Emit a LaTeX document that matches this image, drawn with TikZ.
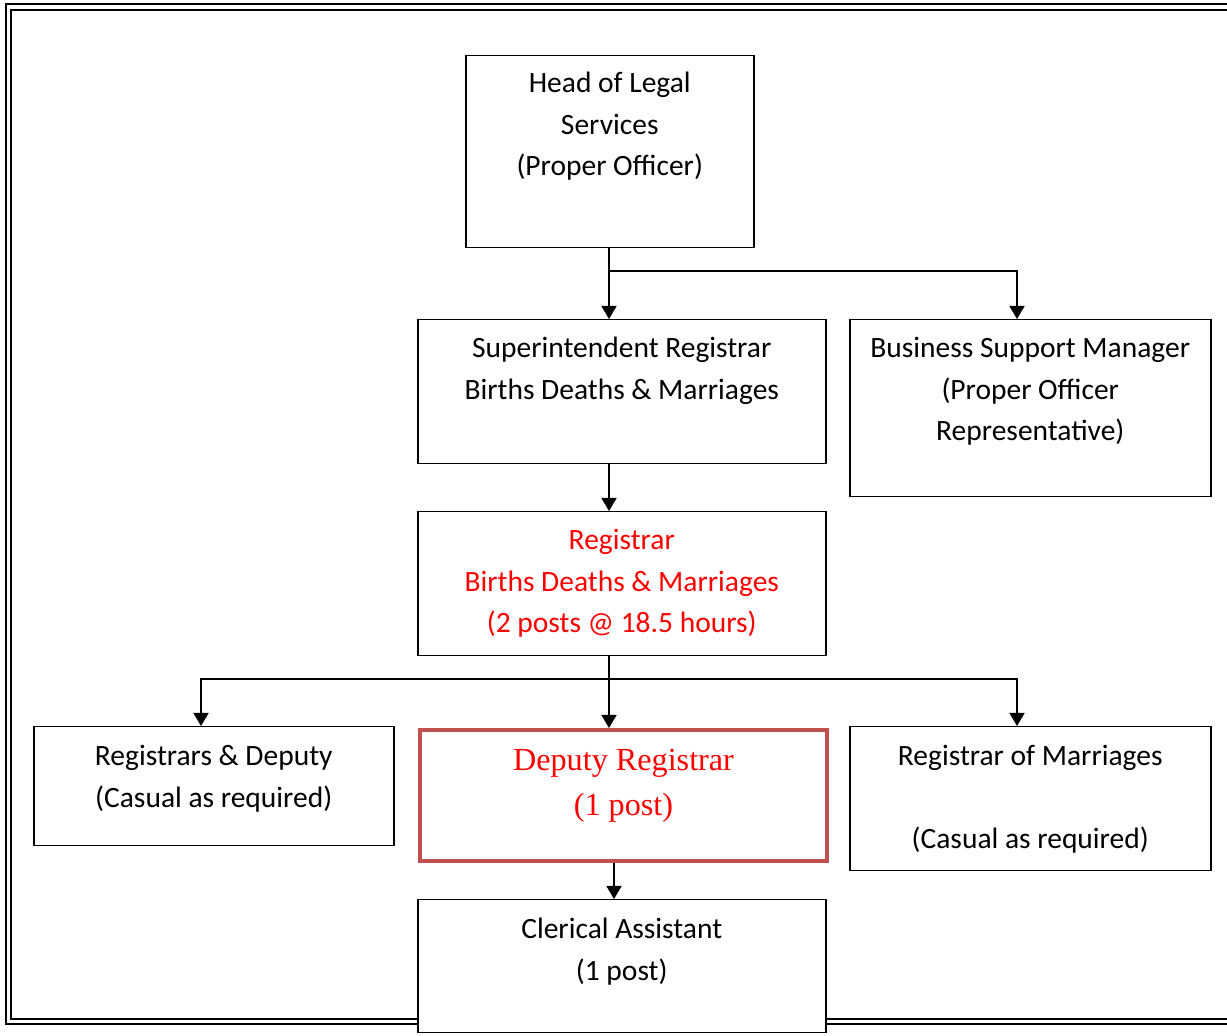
\documentclass[tikz,border=0pt]{standalone}
\usepackage{fontspec}
\setmainfont{Carlito}
\newfontfamily\timesfont{Liberation Serif}
\usetikzlibrary{arrows.meta}
\definecolor{deepred}{HTML}{C0504D}
\tikzset{
  post/.style={draw, line width=0.75pt, fill=white, align=center, inner sep=0pt, anchor=north west,
    font=\fontsize{14.75pt}{20.8pt}\selectfont},
  link/.style={line width=0.75pt, -{Triangle[width=7.5pt,length=6.5pt]}},
  edge/.style={line width=0.75pt}
}
\begin{document}
\begin{tikzpicture}[x=0.5pt, y=-0.5pt]
\useasboundingbox (0,0) rectangle (1227,1036);
\draw[line width=1pt] (6,4.5) rectangle (1240,1023.8);
\draw[line width=1pt] (10.5,10) rectangle (1235,1018.7);
\node[post, minimum width=144pt, text height=60.1pt, text depth=35.9pt] (head) at (465,55) {Head of Legal\\Services\\(Proper Officer)};
\node[post, minimum width=204pt, text height=39.8pt, text depth=32.2pt] (super) at (417,319) {Superintendent Registrar\\Births Deaths \& Marriages};
\node[post, minimum width=180.5pt, text height=60.6pt, text depth=27.9pt] (bsm) at (849,319) {Business Support Manager\\(Proper Officer\\Representative)};
\node[post, minimum width=204pt, text height=60.6pt, text depth=11.4pt, text=red] (reg) at (417,511) {Registrar\\Births Deaths \& Marriages\\(2 posts @ 18.5 hours)};
\node[post, minimum width=180pt, text height=40.3pt, text depth=19.2pt] (casual) at (33,726) {Registrars \& Deputy\\(Casual as required)};
\node[post, draw=deepred, line width=2pt, minimum width=203.5pt, text height=43pt, text depth=22.5pt, text=red,
  font=\timesfont\fontsize{16.1pt}{22.5pt}\selectfont] (deputy) at (418,728) {Deputy Registrar\\(1 post)};
\node[post, minimum width=180.5pt, text height=61.1pt, text depth=10.9pt] (marr) at (849,726) {Registrar of Marriages\\ \\(Casual as required)};
\node[post, minimum width=204pt, text height=40.3pt, text depth=26.2pt] (clerk) at (417,899) {Clerical Assistant\\(1 post)};
\coordinate (j1) at (609,271);
\coordinate (b1) at (1017,319);
\coordinate (j2) at (609,679);
\coordinate (l2) at (201,726);
\coordinate (r2) at (1017,726);
\coordinate (c3) at (614,0);
\draw[link] (head.south -| j1) -- (super.north -| j1);
\draw[link] (j1) -| (b1);
\draw[link] (super.south -| j1) -- (reg.north -| j1);
\draw[edge] (reg.south -| j2) -- (j2);
\draw[link] (j2) -- (deputy.north -| j2);
\draw[link] (j2) -| (l2);
\draw[link] (j2) -| (r2);
\draw[link] (deputy.south -| c3) -- (clerk.north -| c3);
\end{tikzpicture}
\end{document}
